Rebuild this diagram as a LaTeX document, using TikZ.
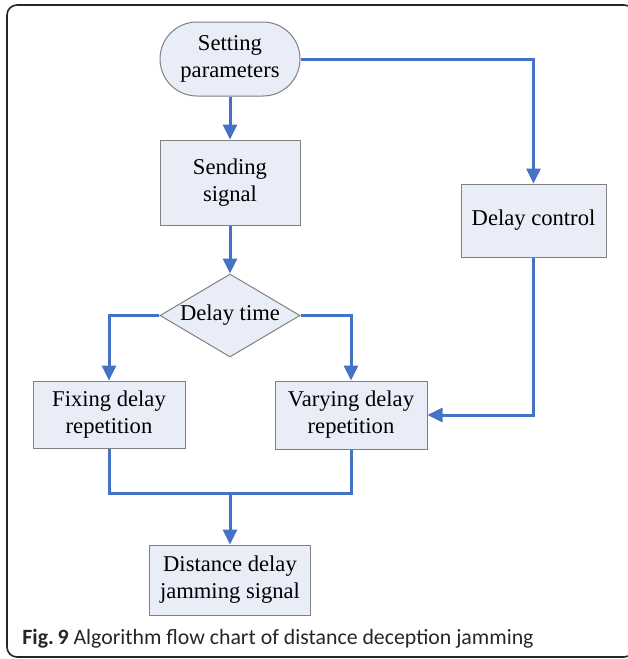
\documentclass[tikz,border=0pt]{standalone}
\usepackage{fontspec}
\setmainfont{Liberation Serif}
\newfontfamily\capfont{Carlito}
\usetikzlibrary{shapes.geometric, arrows.meta, positioning, calc}

\definecolor{flowblue}{HTML}{4472C4}
\definecolor{boxfill}{HTML}{E8EDF7}
\definecolor{boxline}{HTML}{808080}

\begin{document}
\begin{tikzpicture}[
        x=0.5pt, y=-0.5pt,
        box/.style={rectangle, draw=boxline, fill=boxfill, line width=0.5pt, align=center,
            font=\fontsize{11.3}{13.5}\selectfont, inner sep=0pt},
        startbox/.style={box, rounded corners=18.5pt, minimum width=70pt, minimum height=37pt},
        decision/.style={box, diamond, aspect=1.7, minimum width=70pt, minimum height=41.5pt},
        arrow/.style={draw=flowblue, line width=1.5pt, -{Triangle[length=7.5pt,width=7pt]}},
        line/.style={draw=flowblue, line width=1.5pt}
        ]
        \useasboundingbox (0,0) rectangle (627,659);
        \draw[line width=0.8pt, black!85, rounded corners=5pt] (7,5) rectangle (634,657);

        \node[startbox] (set) at (230,59) {Setting\\parameters};
        \node[box, below=21.5pt of set, minimum width=70pt, minimum height=42.5pt] (send) {Sending\\signal};
        \node[decision, below=24pt of send] (delay) {Delay time};
        \node[box, right=80pt of send, yshift=-19pt, minimum width=72.5pt, minimum height=36.5pt] (ctrl) {Delay control};

        \node[box, below=11.5pt of delay, xshift=-60.5pt, minimum width=76pt, minimum height=33.5pt] (fix) {Fixing delay\\repetition};
        \node[box, below=11.5pt of delay, xshift=60.5pt, minimum width=76pt, minimum height=34pt] (vary) {Varying delay\\repetition};
        \node[box, below=93.5pt of delay, minimum width=80.5pt, minimum height=35pt] (dist) {Distance delay\\jamming signal};

        \coordinate[below=22.5pt of fix] (join);

        \draw[arrow] (set) -- (send);
        \draw[arrow] (set) -| (ctrl);
        \draw[arrow] (send) -- (delay);
        \draw[arrow] (delay) -| (fix);
        \draw[arrow] (delay) -| (vary);
        \draw[arrow] (ctrl) |- (vary);
        \draw[line] (fix) -- (join) -| (vary);
        \draw[arrow] (join -| dist) -- (dist);

        \node[anchor=base west, inner sep=0pt, text=black!85, font=\capfont\fontsize{10.9}{13}\selectfont] (caption) at (22,644)
            {\textbf{Fig.\,9} Algorithm flow chart of distance deception jamming};
    \end{tikzpicture}
\end{document}
